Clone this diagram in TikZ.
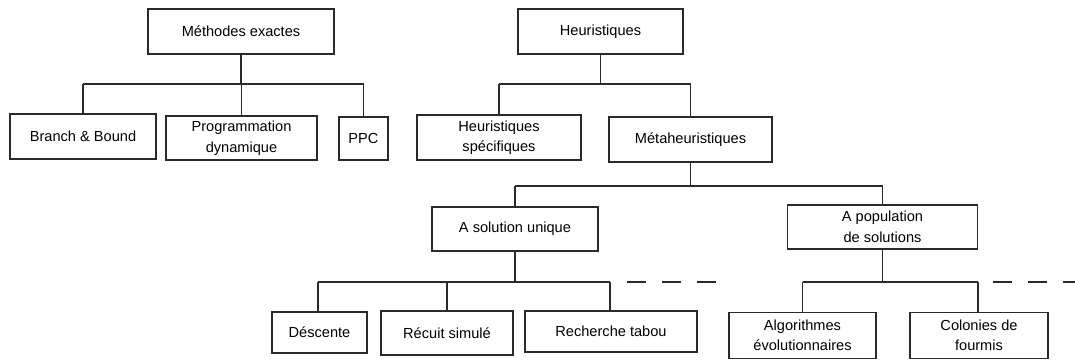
\documentclass[tikz,border=0pt]{standalone}
\usepackage{fontspec}
\setmainfont{Liberation Sans}
\definecolor{ink}{HTML}{2A2A2A}
\begin{document}
\begin{tikzpicture}[x=1pt,y=-1pt,
  box/.style={draw=ink, line width=1.4pt, inner sep=0pt, align=center,
    text=black, font=\fontsize{14.6}{20.5}\selectfont},
  link/.style={draw=ink, line width=1.4pt},
  dashlink/.style={draw=ink, line width=1.4pt, dash pattern=on 19pt off 16pt}]
\useasboundingbox (0,0) rectangle (1075,360);

% exact methods
\node[box, minimum width=186pt, minimum height=45pt] (me) at (241,31.5) {Méthodes exactes};
\node[box, minimum width=146pt, minimum height=45pt] (bb) at (83,136.5) {Branch \& Bound};
\node[box, minimum width=151pt, minimum height=44pt] (pd) at (241.5,138) {Programmation\\dynamique};
\node[box, minimum width=49pt, minimum height=43pt] (ppc) at (363.5,138.5) {PPC};

% heuristics
\node[box, minimum width=165pt, minimum height=45pt] (he) at (600.5,31.5) {Heuristiques};
\node[box, minimum width=164pt, minimum height=45pt] (hs) at (499,137.5) {Heuristiques\\spécifiques};
\node[box, minimum width=163pt, minimum height=45pt] (mh) at (690.5,139.5) {Métaheuristiques};

% metaheuristics
\node[box, minimum width=166pt, minimum height=44pt] (su) at (515,229) {A solution unique};
\node[box, minimum width=190pt, minimum height=44pt] (ps) at (882.5,227) {A population\\de solutions};

\node[box, minimum width=95pt, minimum height=41pt] (de) at (319.5,332.5) {Déscente};
\node[box, minimum width=132pt, minimum height=44pt] (rs) at (447,333) {Récuit simulé};
\node[box, minimum width=172pt, minimum height=41pt] (rt) at (611,331.5) {Recherche tabou};
\node[box, minimum width=147pt, minimum height=46pt] (ae) at (802.5,335.5) {Algorithmes\\évolutionnaires};
\node[box, minimum width=138pt, minimum height=46pt] (cf) at (979,335.5) {Colonies de\\fourmis};

% tree connectors
\draw[link] (me.south) -- (me.south |- 0,84);
\draw[link] (bb.north |- 0,84) -- (ppc.north |- 0,84);
\foreach \c in {bb,pd,ppc} \draw[link] (\c.north) -- (\c.north |- 0,84);

\draw[link] (he.south) -- (he.south |- 0,84);
\draw[link] (hs.north |- 0,84) -- (mh.north |- 0,84);
\foreach \c in {hs,mh} \draw[link] (\c.north) -- (\c.north |- 0,84);

\draw[link] (mh.south) -- (mh.south |- 0,186);
\draw[link] (su.north |- 0,186) -- (ps.north |- 0,186);
\foreach \c in {su,ps} \draw[link] (\c.north) -- (\c.north |- 0,186);

\draw[link] (su.south) -- (su.south |- 0,282);
\draw[link] ([xshift=-1.5pt]de.north |- 0,282) -- ([xshift=-1pt]rt.north |- 0,282);
\draw[link] ([xshift=-1.5pt]de.north) -- ([xshift=-1.5pt]de.north |- 0,282);
\draw[link] (rs.north) -- (rs.north |- 0,282);
\draw[link] ([xshift=-1pt]rt.north) -- ([xshift=-1pt]rt.north |- 0,282);

\draw[link] (ps.south) -- (ps.south |- 0,282);
\draw[link] (ae.north |- 0,282) -- ([xshift=-1pt]cf.north |- 0,282);
\draw[link] (ae.north) -- (ae.north |- 0,282);
\draw[link] ([xshift=-1pt]cf.north) -- ([xshift=-1pt]cf.north |- 0,282);

% open-ended dashed continuations
\coordinate (da1) at (627,282);
\coordinate (da2) at (718,282);
\coordinate (db1) at (993,282);
\coordinate (db2) at (1080,282);
\draw[dashlink] (da1) -- (da2);
\draw[dashlink] (db1) -- (db2);
\end{tikzpicture}
\end{document}
